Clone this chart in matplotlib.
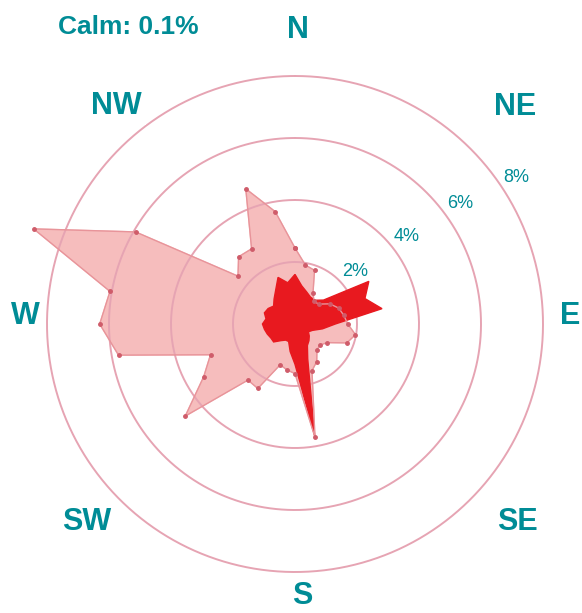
import numpy as np
import matplotlib.pyplot as plt

# wind directions, degrees clockwise from north
directions = np.arange(0, 360, 10)

# total frequency (%), light polygon
total_pct = [2.45, 1.93, 1.84, 1.16, 0.95, 1.0, 1.3, 1.5, 1.6, 1.7,
             1.98, 1.78, 1.2, 1.05, 1.1, 1.4, 1.6, 3.7, 1.6, 1.5,
             1.4, 2.4, 2.36, 4.62, 3.4, 2.9, 5.78, 6.3, 6.06, 8.97,
             5.94, 2.4, 2.83, 2.8, 4.64, 3.68]

# frequency of strong winds (%), dark polygon
strong_pct = [1.6, 1.25, 1.1, 1.0, 1.0, 1.2, 2.75, 2.4, 2.85, 1.3,
              0.9, 0.6, 0.5, 0.6, 0.7, 0.8, 1.2, 3.65, 1.3, 0.9,
              0.6, 0.6, 0.7, 0.9, 0.9, 0.95, 1.0, 1.05, 0.95, 1.05,
              1.0, 0.9, 1.05, 1.25, 1.6, 1.35]

rings = [2, 4, 6, 8]
ring_labels = ['2%', '4%', '6%', '8%']
compass = ['N', 'NE', 'E', 'SE', 'S', 'SW', 'W', 'NW']
calm_text = 'Calm: 0.1%'

teal = '#008c96'

fig = plt.figure(figsize=(5.82, 6.13), dpi=100)
rmax = 9.2
# center at (295, 324) px, 31 px per percent
R = rmax * 31
ax = fig.add_axes([(295 - R) / 582, (613 - 324 - R) / 613, 2 * R / 582, 2 * R / 613],
                  projection='polar')
ax.set_theta_zero_location('N')
ax.set_theta_direction(-1)
ax.set_ylim(0, rmax)
ax.axis('off')

th = np.deg2rad(np.append(directions, directions[0]))
tot = np.append(total_pct, total_pct[0])
stg = np.append(strong_pct, strong_pct[0])

ax.fill(th, tot, color='#f6bdbd', zorder=1, clip_on=False)
ax.plot(th, tot, color='#e8949a', lw=1, marker='o', ms=2.5,
        mfc='#cf5c6a', mec='#cf5c6a', zorder=4, clip_on=False)

circ = np.linspace(0, 2 * np.pi, 400)
for r in rings:
    ax.plot(circ, np.full_like(circ, r), color='#e6a4b3', lw=1.4, zorder=2, clip_on=False)

ax.fill(th, stg, color='#e8191f', zorder=3, clip_on=False)

# ring labels (angle deg, radius %)
ring_pos = [(49, 2.56), (52, 4.57), (54, 6.6), (56.5, 8.54)]
for lab, (a, rr) in zip(ring_labels, ring_pos):
    ax.text(np.deg2rad(a), rr, lab, color=teal, fontsize=13,
            ha='center', va='center', family='Liberation Sans', zorder=5)

# compass labels placed in figure pixels
pos = [(298, 30), (515, 107), (570, 316), (517, 522),
       (302, 596), (87, 522), (25, 316), (116, 106)]
for lab, (x, y) in zip(compass, pos):
    fig.text(x / 582, 1 - y / 613, lab, color=teal, fontsize=22,
             fontweight='bold', ha='center', va='center', family='Liberation Sans',
             bbox=dict(facecolor='white', edgecolor='none', pad=3), zorder=6)

fig.text(128 / 582, 1 - 27 / 613, calm_text, color=teal, fontsize=19,
         fontweight='bold', ha='center', va='center', family='Liberation Sans')

fig.savefig('out.png', dpi=100)
